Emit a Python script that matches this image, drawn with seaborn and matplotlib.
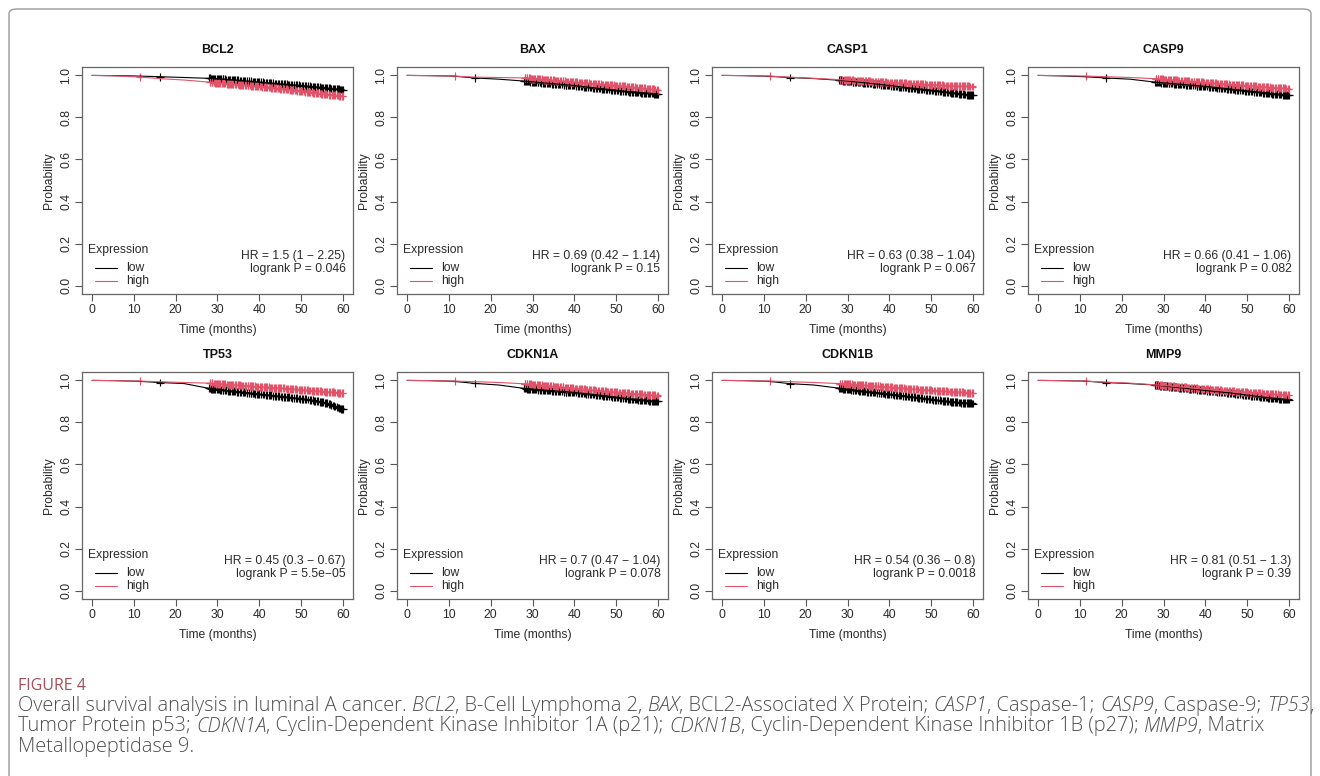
import numpy as np
import pandas as pd
import seaborn as sns
import matplotlib.pyplot as plt
from matplotlib.patches import FancyBboxPatch

# Dados (curvas Kaplan-Meier aproximadas)
genes = ['BCL2', 'BAX', 'CASP1', 'CASP9', 'TP53', 'CDKN1A', 'CDKN1B', 'MMP9']
knot_months = [0, 5, 11, 16, 22, 28, 34, 40, 46, 52, 56, 60]

bcl2_low = [1, 0.999, 0.997, 0.994, 0.99, 0.986, 0.978, 0.968, 0.958, 0.948, 0.94, 0.932]
bcl2_high = [1, 0.998, 0.993, 0.985, 0.978, 0.968, 0.958, 0.948, 0.935, 0.92, 0.91, 0.902]
bax_low = [1, 0.999, 0.997, 0.988, 0.982, 0.973, 0.962, 0.952, 0.938, 0.925, 0.918, 0.912]
bax_high = [1, 0.999, 0.997, 0.992, 0.99, 0.988, 0.978, 0.968, 0.958, 0.948, 0.94, 0.932]
casp1_low = [1, 0.999, 0.996, 0.99, 0.985, 0.977, 0.965, 0.952, 0.938, 0.925, 0.915, 0.905]
casp1_high = [1, 0.999, 0.997, 0.992, 0.986, 0.98, 0.973, 0.966, 0.96, 0.953, 0.95, 0.947]
casp9_low = [1, 0.998, 0.994, 0.988, 0.982, 0.968, 0.958, 0.948, 0.935, 0.922, 0.913, 0.906]
casp9_high = [1, 0.999, 0.997, 0.994, 0.99, 0.984, 0.975, 0.966, 0.957, 0.948, 0.942, 0.937]
tp53_low = [1, 0.999, 0.996, 0.99, 0.985, 0.962, 0.948, 0.935, 0.922, 0.908, 0.893, 0.862]
tp53_high = [1, 0.999, 0.997, 0.994, 0.99, 0.987, 0.978, 0.97, 0.962, 0.952, 0.946, 0.94]
cdkn1a_low = [1, 0.999, 0.996, 0.986, 0.978, 0.962, 0.952, 0.943, 0.93, 0.915, 0.907, 0.9]
cdkn1a_high = [1, 0.999, 0.997, 0.994, 0.99, 0.984, 0.973, 0.962, 0.951, 0.94, 0.934, 0.928]
cdkn1b_low = [1, 0.999, 0.996, 0.985, 0.978, 0.963, 0.948, 0.935, 0.92, 0.905, 0.896, 0.89]
cdkn1b_high = [1, 0.999, 0.997, 0.994, 0.99, 0.985, 0.977, 0.968, 0.958, 0.95, 0.945, 0.94]
mmp9_low = [1, 0.999, 0.997, 0.99, 0.985, 0.978, 0.965, 0.952, 0.94, 0.925, 0.916, 0.909]
mmp9_high = [1, 0.999, 0.997, 0.992, 0.987, 0.979, 0.969, 0.959, 0.949, 0.94, 0.935, 0.93]

low_curves = [bcl2_low, bax_low, casp1_low, casp9_low, tp53_low, cdkn1a_low, cdkn1b_low, mmp9_low]
high_curves = [bcl2_high, bax_high, casp1_high, casp9_high, tp53_high, cdkn1a_high, cdkn1b_high, mmp9_high]

# tempos censurados (marcas "+")
censor_low = [16.3, 28.0, 28.2, 28.4, 28.7, 28.9, 29.2, 29.4, 29.8, 30.1, 30.3, 30.6, 30.9, 31.2,
              31.4, 31.8, 32.1, 32.5, 32.8, 33.1, 33.4, 33.6, 34.0, 34.2, 34.6, 34.9, 35.3, 35.7,
              36.0, 36.3, 36.6, 37.1, 37.5, 37.9, 38.1, 38.4, 38.8, 39.0, 39.4, 39.7, 40.0, 40.3,
              40.8, 41.1, 41.5, 41.9, 42.2, 42.5, 42.8, 43.3, 43.7, 44.0, 44.4, 44.7, 45.2, 45.5,
              45.9, 46.2, 46.5, 46.9, 47.2, 47.5, 47.8, 48.3, 48.7, 49.1, 49.4, 49.7, 50.2, 50.5,
              50.9, 51.2, 51.6, 52.1, 52.4, 52.8, 53.1, 53.4, 53.8, 54.1, 54.4, 54.7, 55.0, 55.3,
              55.7, 56.0, 56.3, 56.6, 56.9, 57.2, 57.6, 57.9, 58.2, 58.5, 58.8, 59.1, 59.4, 59.6,
              59.8, 60.0]
censor_high = [11.4, 28.1, 28.3, 28.6, 28.8, 29.1, 29.3, 29.6, 29.9, 30.1, 30.4, 30.7, 31.0,
               31.2, 31.5, 31.9, 32.2, 32.4, 32.7, 32.9, 33.2, 33.5, 33.8, 34.1, 34.4, 34.8,
               35.1, 35.4, 35.6, 35.9, 36.2, 36.5, 36.9, 37.2, 37.4, 37.7, 38.0, 38.3, 38.6,
               38.9, 39.2, 39.5, 39.8, 40.1, 40.4, 40.7, 41.0, 41.3, 41.6, 41.9, 42.3, 42.6,
               42.9, 43.1, 43.4, 43.8, 44.1, 44.4, 44.8, 45.0, 45.3, 45.7, 46.0, 46.3, 46.6,
               46.9, 47.3, 47.5, 47.9, 48.1, 48.5, 48.8, 49.1, 49.4, 49.8, 50.0, 50.3, 50.6,
               51.0, 51.3, 51.6, 51.9, 52.2, 52.5, 52.9, 53.1, 53.5, 53.8, 54.1, 54.4, 54.8,
               55.0, 55.4, 55.7, 56.0, 56.3, 56.7, 56.9, 57.3, 57.5, 57.9, 58.2, 58.5, 58.8,
               59.1, 59.4, 59.7, 59.9]

hr_labels = ['HR = 1.5 (1 \u2212 2.25)', 'HR = 0.69 (0.42 \u2212 1.14)', 'HR = 0.63 (0.38 \u2212 1.04)',
             'HR = 0.66 (0.41 \u2212 1.06)', 'HR = 0.45 (0.3 \u2212 0.67)', 'HR = 0.7 (0.47 \u2212 1.04)',
             'HR = 0.54 (0.36 \u2212 0.8)', 'HR = 0.81 (0.51 \u2212 1.3)']
p_labels = ['logrank P = 0.046', 'logrank P = 0.15', 'logrank P = 0.067', 'logrank P = 0.082',
            'logrank P = 5.5e\u221205', 'logrank P = 0.078', 'logrank P = 0.0018', 'logrank P = 0.39']

sns.set_theme(style='white')
plt.rcParams['font.family'] = ['Liberation Sans', 'DejaVu Sans']

cores = {'low': '#000000', 'high': '#DF536B'}
fig = plt.figure(figsize=(13.2, 7.76), dpi=100)

# moldura arredondada
fig.patches.append(FancyBboxPatch((9 / 1320, -0.02), 1302 / 1320, (776 - 9) / 776 + 0.02,
                                  boxstyle='round,pad=0,rounding_size=0.006',
                                  transform=fig.transFigure, fill=False,
                                  edgecolor='#9a9a9a', linewidth=1.0))

lefts = [82, 397, 712, 1028]
tops = [67, 372]
larg, alt = 271, 227

for i, gene in enumerate(genes):
    row, col = divmod(i, 4)
    ax = fig.add_axes([lefts[col] / 1320, 1 - (tops[row] + alt) / 776, larg / 1320, alt / 776])

    df = pd.concat([
        pd.DataFrame({'time': knot_months, 'prob': low_curves[i], 'group': 'low'}),
        pd.DataFrame({'time': knot_months, 'prob': high_curves[i], 'group': 'high'}),
    ])
    sns.lineplot(data=df, x='time', y='prob', hue='group', palette=cores, estimator=None,
                 sort=False, legend=False, linewidth=0.8, ax=ax)

    cens = pd.concat([
        pd.DataFrame({'time': censor_low, 'prob': np.interp(censor_low, knot_months, low_curves[i]), 'group': 'low'}),
        pd.DataFrame({'time': censor_high, 'prob': np.interp(censor_high, knot_months, high_curves[i]), 'group': 'high'}),
    ])
    sns.scatterplot(data=cens, x='time', y='prob', hue='group', palette=cores, marker='+',
                    s=32, linewidth=0.85, legend=False, ax=ax)

    ax.set_xlim(-2.4, 62.4)
    ax.set_ylim(-0.04, 1.04)
    ax.set_xticks(range(0, 61, 10))
    ax.set_yticks([0, 0.2, 0.4, 0.6, 0.8, 1.0])
    ax.set_yticklabels(['0.0', '0.2', '0.4', '0.6', '0.8', '1.0'], rotation=90, va='center')
    ax.tick_params(axis='both', which='both', direction='out', length=5, width=0.8,
                   color='#555555', labelsize=8.8, labelcolor='#2a2a2a', bottom=True, left=True,
                   pad=2)
    for s in ax.spines.values():
        s.set_color('#666666')
        s.set_linewidth(0.9)
    ax.set_xlabel('Time (months)', fontsize=8.7, color='#2a2a2a', labelpad=6)
    ax.set_ylabel('Probability', fontsize=8.7, color='#2a2a2a', labelpad=4)
    ax.set_title(gene, fontsize=9, fontweight='bold', color='#111111', pad=10)

    # legenda estilo R
    ax.text(-0.9, 0.168, 'Expression', fontsize=8.7, color='#2a2a2a', va='center', ha='left')
    ax.plot([0.6, 5.9], [0.085, 0.085], color=cores['low'], lw=0.8)
    ax.plot([0.6, 5.9], [0.021, 0.021], color=cores['high'], lw=0.8)
    ax.text(8.2, 0.085, 'low', fontsize=8.7, color='#2a2a2a', va='center', ha='left')
    ax.text(8.2, 0.021, 'high', fontsize=8.7, color='#2a2a2a', va='center', ha='left')

    ax.text(60.6, 0.14, hr_labels[i], fontsize=8.7, color='#2a2a2a', va='center', ha='right')
    ax.text(60.6, 0.079, p_labels[i], fontsize=8.7, color='#2a2a2a', va='center', ha='right')

# legenda da figura
cap_font = ['Open Sans', 'DejaVu Sans']
fig.text(18 / 1320, 1 - 686 / 776, 'FIGURE 4', fontsize=11.5, color='#a2505a',
         family=cap_font, va='center')

linhas = [
    [('Overall survival analysis in luminal A cancer. ', 'normal'), ('BCL2', 'italic'),
     (', B-Cell Lymphoma 2, ', 'normal'), ('BAX', 'italic'), (', BCL2-Associated X Protein; ', 'normal'),
     ('CASP1', 'italic'), (', Caspase-1; ', 'normal'), ('CASP9', 'italic'), (', Caspase-9; ', 'normal'),
     ('TP53', 'italic'), (',', 'normal')],
    [('Tumor Protein p53; ', 'normal'), ('CDKN1A', 'italic'),
     (', Cyclin-Dependent Kinase Inhibitor 1A (p21); ', 'normal'), ('CDKN1B', 'italic'),
     (', Cyclin-Dependent Kinase Inhibitor 1B (p27); ', 'normal'), ('MMP9', 'italic'),
     (', Matrix', 'normal')],
    [('Metallopeptidase 9.', 'normal')],
]
renderer = fig.canvas.get_renderer()
for k, linha in enumerate(linhas):
    x = 18 / 1320
    y = 1 - (706 + k * 20.5) / 776
    for txt, estilo in linha:
        t = fig.text(x, y, txt, fontsize=14.4, color='#4f4f4f', family=cap_font,
                     style=estilo, fontweight='light', va='center', ha='left')
        bb = t.get_window_extent(renderer=renderer)
        x += bb.width / 1320

plt.savefig('out.png', dpi=100)
